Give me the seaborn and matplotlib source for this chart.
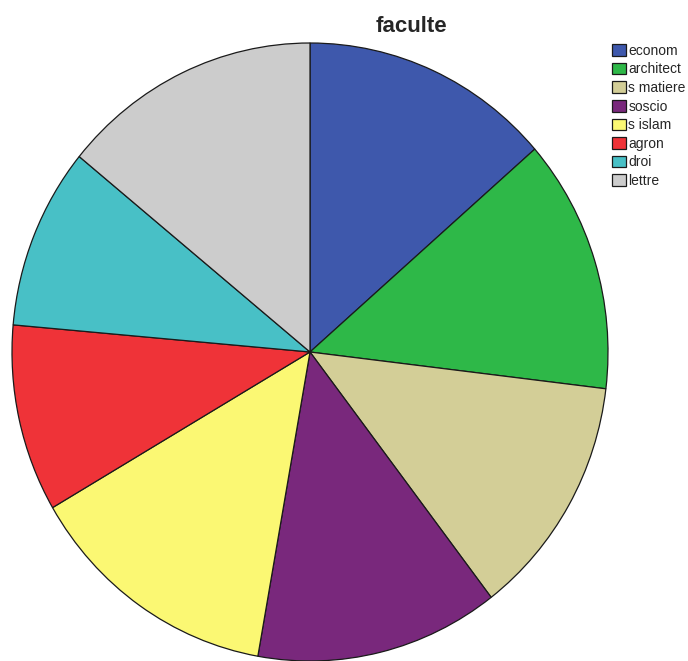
import matplotlib
matplotlib.use("Agg")
import matplotlib.pyplot as plt
from matplotlib.patches import Patch
import seaborn as sns

sns.set_theme(style="white")
plt.rcParams["font.family"] = ["Liberation Sans", "DejaVu Sans"]

# Share of students per faculty (%)
categories = ["econom", "architect", "s matiere", "soscio", "s islam", "agron", "droi", "lettre"]
shares = [13.6, 13.3, 12.7, 13.2, 13.8, 9.8, 9.5, 14.1]
colors = ["#3E58AC", "#2EB848", "#D3CE97", "#79287C", "#FBF873", "#EF3338", "#48C0C6", "#CCCCCC"]
title = "faculte"

palette = sns.color_palette(colors)

W, H = 688, 661
fig = plt.figure(figsize=(W / 100, H / 100), dpi=100)
fig.patch.set_facecolor("white")

# pie occupies an elliptical box, slightly taller than wide
left, right, top, bottom = 12, 608, 43, 661
ax = fig.add_axes([left / W, 1 - bottom / H, (right - left) / W, (bottom - top) / H])
wedges, _ = ax.pie(shares, colors=palette, startangle=90, counterclock=False,
                   wedgeprops=dict(edgecolor="#1a1a1a", linewidth=0.9))
ax.set_aspect("auto")
ax.set_xlim(-1.0, 1.0)
ax.set_ylim(-1.0, 1.0)
ax.axis("off")

fig.text(411 / W, 1 - 26 / H, title, ha="center", va="center",
         fontsize=16, fontweight="bold")

handles = [Patch(facecolor=c, edgecolor="#1a1a1a", linewidth=0.9) for c in palette]
fig.legend(handles, categories, loc="upper left",
           bbox_to_anchor=(609 / W, 1 - 41 / H), frameon=False,
           fontsize=10, labelspacing=0.33, handlelength=1.0, handleheight=0.9,
           handletextpad=0.2, borderpad=0.2, borderaxespad=0)

fig.savefig("out.png", dpi=100, facecolor="white")
